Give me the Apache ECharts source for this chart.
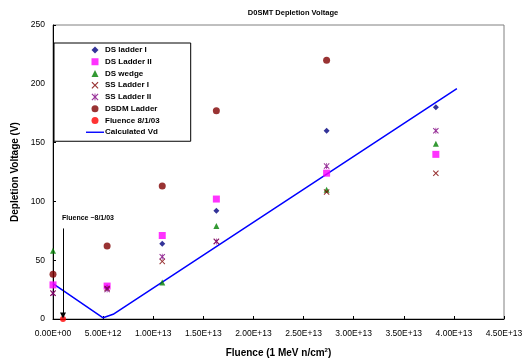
<!DOCTYPE html>
<html>
<head>
<meta charset="utf-8">
<script src="https://cdn.jsdelivr.net/npm/echarts@6/dist/echarts.min.js"></script>
<style>
  html, body { margin: 0; padding: 0; background: #fff; }
  #chart { width: 527px; height: 361px; }
</style>
</head>
<body>
<div id="chart"></div>
<script>
// fluence values (n/cm^2) of each measurement column
const dsLadderI   = [[5.4e12, 27], [1.09e13, 64], [1.63e13, 92], [2.73e13, 160], [3.82e13, 180]];
const dsLadderII  = [[0, 29], [5.4e12, 28], [1.09e13, 71], [1.63e13, 102], [2.73e13, 124], [3.82e13, 140]];
const dsWedge     = [[0, 58], [1.09e13, 31], [1.63e13, 79], [2.73e13, 110], [3.82e13, 149]];
const ssLadderI   = [[0, 22], [5.4e12, 26], [1.09e13, 49], [1.63e13, 66], [2.73e13, 108], [3.82e13, 124]];
const ssLadderII  = [[0, 22], [5.4e12, 25], [1.09e13, 53], [1.63e13, 66], [2.73e13, 130], [3.82e13, 160]];
const dsdmLadder  = [[0, 38], [5.4e12, 62], [1.09e13, 113], [1.63e13, 177], [2.73e13, 220]];
const fluence0803 = [[1.0e12, 0]];
const calculatedVd = [[0, 30], [5e12, 1], [6e12, 4], [4.03e13, 196]];

const arrowFrom = [1.0e12, 77];
const arrowTo = [1.0e12, 3];
const arrowTextAt = [1.0e12, 86];
const arrowText = 'Fluence ~8/1/03';

const xTicks = { min: 0, max: 4.5e13, interval: 5e12 };
const yTicks = { min: 0, max: 250, interval: 50 };

const FONT = 'Arial, "Liberation Sans", sans-serif';

function sciLabel(v) {
    if (v === 0) return '0.00E+00';
    let e = Math.floor(Math.log10(Math.abs(v)) + 1e-9);
    let m = v / Math.pow(10, e);
    return m.toFixed(2) + 'E' + (e < 0 ? '-' : '+') + String(Math.abs(e)).padStart(2, '0');
}

// marker shapes (filled paths so they keep their aspect in the legend)
const diamondSym = 'path://M5,0L10,5L5,10L0,5Z';
const squareSym = 'path://M0,0L10,0L10,10L0,10Z';
const triSym = 'path://M5,0L10,10L0,10Z';
const xSym = 'path://M0,1.2L1.2,0L5,3.8L8.8,0L10,1.2L6.2,5L10,8.8L8.8,10L5,6.2L1.2,10L0,8.8L3.8,5Z';
const starSym = xSym + 'M4.4,0L5.6,0L5.6,10L4.4,10Z';
const lineIcon = 'path://M0,4.3L18,4.3L18,5.7L0,5.7Z';

function scatter(name, data, symbol, size, color) {
    return {
        name: name,
        type: 'scatter',
        data: data,
        symbol: symbol,
        symbolSize: size,
        itemStyle: { color: color },
        z: 3
    };
}

const chart = echarts.init(document.getElementById('chart'), null, { renderer: 'canvas' });

chart.setOption({
    animation: false,
    backgroundColor: '#fff',
    textStyle: { fontFamily: FONT },
    title: {
        text: 'D0SMT Depletion Voltage',
        left: 288,
        top: 4,
        textAlign: 'center',
        textStyle: { fontFamily: FONT, fontSize: 7.5, fontWeight: 'bold', color: '#000' }
    },
    grid: {
        left: 53, top: 25, right: 23, bottom: 42,
        outerBoundsMode: 'none',
        containLabel: false,
        show: true, borderColor: '#808080', borderWidth: 1
    },
    legend: {
        orient: 'vertical',
        left: 54,
        top: 43,
        padding: [3, 31, 5, 32],
        itemWidth: 18,
        itemHeight: 7,
        itemGap: 3.75,
        borderColor: '#000',
        borderWidth: 1,
        backgroundColor: '#fff',
        textStyle: { fontFamily: FONT, fontSize: 8, fontWeight: 'bold', color: '#000', lineHeight: 8, padding: [0, 0, 0, -4] },
        data: [
            { name: 'DS ladder I', icon: diamondSym },
            { name: 'DS Ladder II', icon: squareSym },
            { name: 'DS wedge', icon: triSym },
            { name: 'SS Ladder I', icon: xSym },
            { name: 'SS Ladder II', icon: starSym },
            { name: 'DSDM Ladder', icon: 'circle' },
            { name: 'Fluence 8/1/03', icon: 'circle' },
            { name: 'Calculated Vd', icon: lineIcon }
        ]
    },
    xAxis: {
        type: 'value',
        min: xTicks.min, max: xTicks.max, interval: xTicks.interval,
        name: 'Fluence (1 MeV n/cm{sup|2})',
        nameLocation: 'middle',
        nameGap: 28,
        nameTextStyle: {
            fontFamily: FONT, fontSize: 10, fontWeight: 'bold', color: '#000',
            rich: { sup: { fontSize: 6, fontWeight: 'bold', verticalAlign: 'top', padding: [0, 0, 6, 0] } }
        },
        axisLine: { show: true, lineStyle: { color: '#000', width: 1 } },
        axisTick: { show: true, inside: true, length: 3, lineStyle: { color: '#000' } },
        splitLine: { show: false },
        axisLabel: { fontFamily: FONT, fontSize: 8.5, color: '#000', margin: 10, formatter: sciLabel, showMaxLabel: true, hideOverlap: false }
    },
    yAxis: {
        type: 'value',
        min: yTicks.min, max: yTicks.max, interval: yTicks.interval,
        name: 'Depletion Voltage (V)',
        nameLocation: 'middle',
        nameGap: 25,
        nameTextStyle: { fontFamily: FONT, fontSize: 10, fontWeight: 'bold', color: '#000' },
        axisLine: { show: true, lineStyle: { color: '#000', width: 1 } },
        axisTick: { show: true, inside: true, length: 3, lineStyle: { color: '#000' } },
        splitLine: { show: false },
        axisLabel: { fontFamily: FONT, fontSize: 8.5, color: '#000', margin: 8 }
    },
    series: [
        scatter('DS ladder I', dsLadderI, diamondSym, 6, '#000080'),
        scatter('DS Ladder II', dsLadderII, squareSym, 7, '#FF00FF'),
        scatter('DS wedge', dsWedge, triSym, 6, '#008000'),
        scatter('SS Ladder I', ssLadderI, xSym, 6, '#800000'),
        scatter('SS Ladder II', ssLadderII, starSym, 6, '#800080'),
        scatter('DSDM Ladder', dsdmLadder, 'circle', 7, '#800000'),
        {
            name: 'Fluence 8/1/03',
            type: 'scatter',
            data: fluence0803,
            symbol: 'circle',
            symbolSize: 6,
            itemStyle: { color: '#FF0000' },
            z: 4,
            markLine: {
                silent: true,
                symbol: ['none', 'triangle'],
                symbolSize: [6, 6],
                symbolRotate: 180,
                lineStyle: { color: '#000', width: 1, type: 'solid' },
                label: { show: false },
                data: [[{ coord: arrowFrom }, { coord: arrowTo }]]
            },
            markPoint: {
                silent: true,
                symbol: 'circle',
                symbolSize: 0,
                data: [{ coord: arrowTextAt }],
                label: {
                    show: true,
                    formatter: arrowText,
                    position: 'inside',
                    align: 'left',
                    offset: [-1, 0],
                    fontFamily: FONT, fontSize: 7, fontWeight: 'bold', color: '#000'
                }
            }
        },
        {
            name: 'Calculated Vd',
            type: 'line',
            data: calculatedVd,
            symbol: 'none',
            lineStyle: { color: '#0000FF', width: 1.5 },
            itemStyle: { color: '#0000FF' },
            z: 2
        }
    ]
});
</script>
</body>
</html>
